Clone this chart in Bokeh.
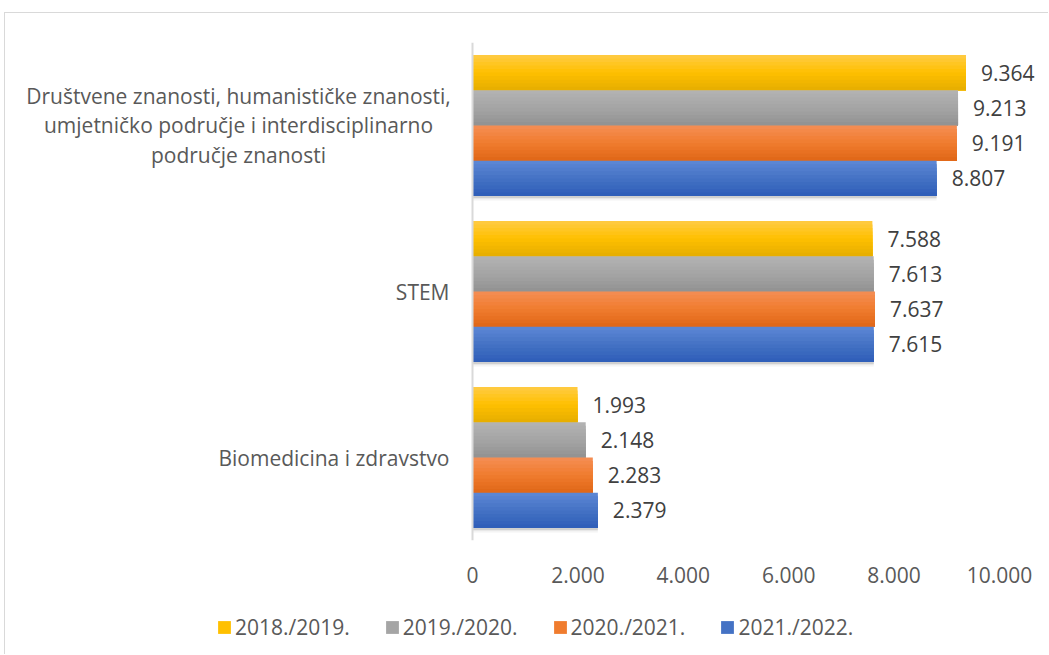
from bokeh.plotting import figure
from bokeh.layouts import column
from bokeh.models import (Range1d, FactorRange, ColumnDataSource, FixedTicker,
                          Span, Legend, LegendItem)
from bokeh.transform import dodge
from bokeh.core.properties import value
from bokeh.embed import file_html
from bokeh.resources import INLINE

# ---------------- data ----------------
categories = [
    "Društvene znanosti, humanističke znanosti, umjetničko područje i interdisciplinarno područje znanosti",
    "STEM",
    "Biomedicina i zdravstvo",
]
category_labels = [
    "Društvene znanosti, humanističke znanosti,\numjetničko područje i interdisciplinarno\npodručje znanosti",
    "STEM",
    "Biomedicina i zdravstvo",
]
years = ["2018./2019.", "2019./2020.", "2020./2021.", "2021./2022."]
v_2018_2019 = [9364, 7588, 1993]
v_2019_2020 = [9213, 7613, 2148]
v_2020_2021 = [9191, 7637, 2283]
v_2021_2022 = [8807, 7615, 2379]
tick_values = [0, 2000, 4000, 6000, 8000, 10000]
tick_labels = ["0", "2.000", "4.000", "6.000", "8.000", "10.000"]

series_values = [v_2018_2019, v_2019_2020, v_2020_2021, v_2021_2022]

# ---------------- style ----------------
FONT = "Open Sans"
TEXT = "#595959"
VAL_TEXT = "#404040"
# (top, middle, bottom) gradient stops per series
gradients = [
    ("#FFCB45", "#FFC000", "#E5AD00"),
    ("#B3B3B3", "#A5A5A5", "#919191"),
    ("#F58E55", "#F07C2E", "#DF6617"),
    ("#5E88D6", "#4472C4", "#2E5DB8"),
]


def hex_to_rgb(h):
    h = h.lstrip("#")
    return tuple(int(h[i:i + 2], 16) for i in (0, 2, 4))


def mix(c1, c2, t):
    a, b = hex_to_rgb(c1), hex_to_rgb(c2)
    return "#%02x%02x%02x" % tuple(round(a[i] + (b[i] - a[i]) * t) for i in range(3))


def grad(stops, f):
    top, mid, bot = stops
    if f < 0.5:
        return mix(top, mid, f / 0.5)
    return mix(mid, bot, (f - 0.5) / 0.5)


def fmt(v):
    return f"{v:,}".replace(",", ".")


W = 1043
H1, H2 = 587, 54
zero_px = 467          # x=0 position from the frame's left edge
px_per_unit = 527 / 10000
x_start = -zero_px / px_per_unit
x_end = (W - zero_px) / px_per_unit

p = figure(
    width=W, height=H1,
    x_range=Range1d(x_start, x_end),
    y_range=FactorRange(factors=list(reversed(categories)), range_padding=0),
    output_backend="svg", toolbar_location=None, y_axis_location=None,
    min_border_left=0, min_border_right=0, min_border_top=29, min_border_bottom=60,
    background_fill_color="white", border_fill_color="white",
)
p.outline_line_color = None
p.xgrid.visible = False
p.ygrid.visible = False

ax = p.xaxis[0]
ax.ticker = FixedTicker(ticks=tick_values)
ax.major_label_overrides = {t: l for t, l in zip(tick_values, tick_labels)}
ax.axis_line_color = None
ax.major_tick_line_color = None
ax.minor_tick_line_color = None
ax.major_tick_out = 0
ax.major_label_standoff = 26
ax.major_label_text_font = FONT
ax.major_label_text_font_size = "21px"
ax.major_label_text_color = TEXT

BAR_H = 0.2125
NS = 10
mid_colors = []

for s, (yr, vals) in enumerate(zip(years, series_values)):
    src = ColumnDataSource(dict(cat=categories, val=vals, lab=[fmt(v) for v in vals]))
    base = (1.5 - s) * BAR_H
    if s == len(years) - 1:
        # soft shadow under the group
        for j, a in enumerate([0.10, 0.06, 0.03]):
            p.hbar(y=dodge("cat", base - 0.012 - 0.008 * j, range=p.y_range), left=0,
                   right="val", height=BAR_H, source=src,
                   fill_color="#000000", fill_alpha=a, line_color=None)
    sh = BAR_H / NS
    for k in range(NS):
        f = (k + 0.5) / NS
        hk = BAR_H - k * sh               # from slice top down to bar bottom
        off = base - BAR_H / 2 + hk / 2
        p.hbar(y=dodge("cat", off, range=p.y_range), left=0, right="val",
               height=hk, source=src,
               fill_color=grad(gradients[s], f), line_color=None)
    mid_colors.append(gradients[s][1])
    p.text(x="val", y=dodge("cat", base, range=p.y_range), text="lab", source=src,
           x_offset=15, text_align="left", text_baseline="middle",
           text_font=value(FONT), text_font_size="21px", text_color=VAL_TEXT)

# vertical category axis line
p.add_layout(Span(location=0, dimension="height", line_color="#d9d9d9", line_width=2))

# category labels
single = [i for i, l in enumerate(category_labels) if "\n" not in l]
multi = [i for i, l in enumerate(category_labels) if "\n" in l]
src_single = ColumnDataSource(dict(cat=[categories[i] for i in single],
                                   lab=[category_labels[i] for i in single],
                                   x=[0] * len(single)))
src_multi = ColumnDataSource(dict(cat=[categories[i] for i in multi],
                                  lab=[category_labels[i] for i in multi],
                                  x=[0] * len(multi)))
p.text(x="x", y="cat", text="lab", source=src_single, x_offset=-23,
       text_align="right", text_baseline="middle",
       text_font=value(FONT), text_font_size="21px", text_color=TEXT)
p.text(x="x", y="cat", text="lab", source=src_multi, x_offset=-234,
       text_align="center", text_baseline="middle", text_line_height=1.05,
       text_font=value(FONT), text_font_size="21px", text_color=TEXT)

# ---------------- legend strip ----------------
p2 = figure(
    width=W, height=H2, x_range=Range1d(0, 1), y_range=Range1d(0, 1),
    output_backend="svg", toolbar_location=None,
    x_axis_location=None, y_axis_location=None,
    min_border=0, background_fill_color="white", border_fill_color="white",
)
p2.outline_line_color = None
p2.xgrid.visible = False
p2.ygrid.visible = False

items = []
for yr, c in zip(years, mid_colors):
    # zero-size key glyph: only its colour is shown in the legend
    lsrc = ColumnDataSource(dict(series=[yr], zero=[0]))
    r = p2.hbar(y="zero", left="zero", right="zero", height=0, source=lsrc,
                fill_color=c, line_color=None)
    items.append(LegendItem(label=yr, renderers=[r]))

legend = Legend(
    items=items, orientation="horizontal", location=(211, 13),
    glyph_width=16, glyph_height=16, label_standoff=3, spacing=34,
    padding=0, margin=0, border_line_color=None, background_fill_alpha=0,
    label_text_font=FONT, label_text_font_size="21px", label_text_color=TEXT,
)
p2.add_layout(legend, "center")

layout = column(p, p2, spacing=0,
                styles={"margin-left": "4px", "margin-top": "12px",
                        "border-left": "1px solid #d9d9d9",
                        "border-top": "1px solid #d9d9d9"})

open("out.html", "w").write(file_html(layout, INLINE))
